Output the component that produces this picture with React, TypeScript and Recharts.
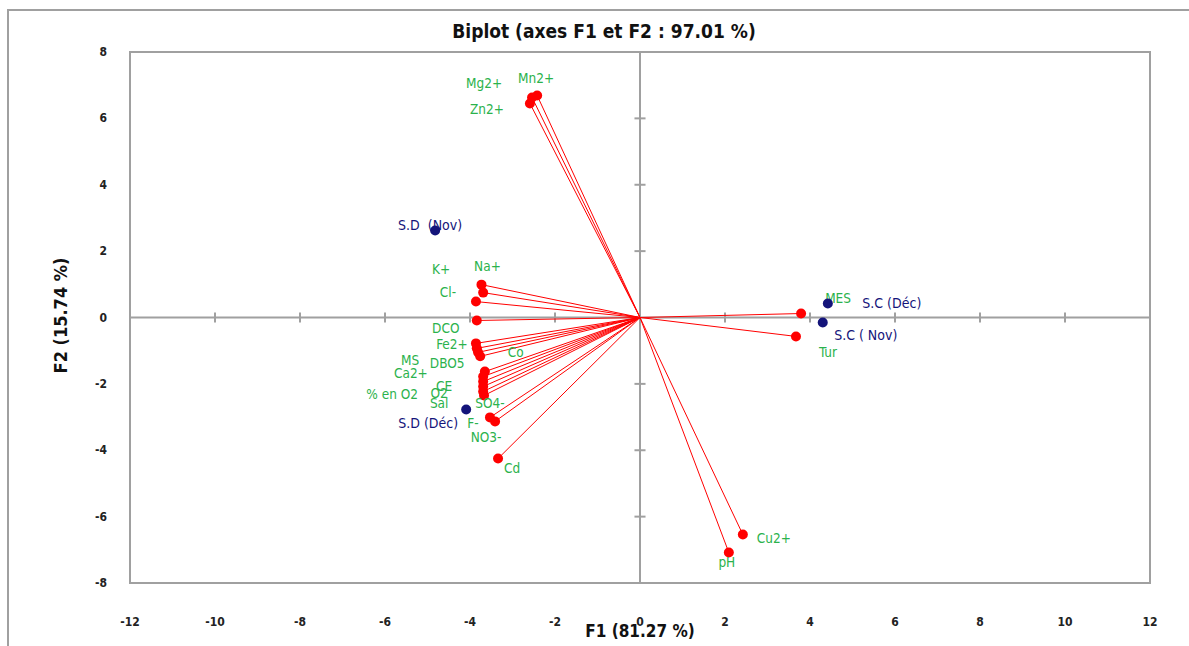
import React from "react";
import {
  ScatterChart,
  Scatter,
  XAxis,
  YAxis,
  ReferenceLine,
  ReferenceArea,
} from "recharts";

// variables (active vectors)
const varNames = [
  "Mg2+", "Mn2+", "Zn2+", "Na+", "K+", "Cl-", "DCO", "Fe2+", "Co", "MS",
  "DBO5", "Ca2+", "CE", "% en O2", "O2", "Sal", "SO4-", "F-", "NO3-", "Cd",
  "MES", "Tur", "Cu2+", "pH",
];
const varF1 = [
  -2.54, -2.42, -2.59, -3.73, -3.69, -3.86, -3.84, -3.86, -3.84, -3.81,
  -3.76, -3.65, -3.69, -3.69, -3.69, -3.69, -3.67, -3.53, -3.41, -3.34,
  3.79, 3.67, 2.42, 2.09,
];
const varF2 = [
  6.63, 6.69, 6.45, 0.99, 0.75, 0.48, -0.09, -0.78, -0.93, -1.05,
  -1.17, -1.63, -1.78, -1.93, -2.08, -2.23, -2.35, -3.01, -3.13, -4.25,
  0.12, -0.57, -6.54, -7.08,
];

// observations
const obsNames = ["S.D  (Nov)", "S.D (Déc)", "S.C (Déc)", "S.C ( Nov)"];
const obsF1 = [-4.82, -4.09, 4.42, 4.3];
const obsF2 = [2.62, -2.77, 0.42, -0.15];

const xTicks = [-12, -10, -8, -6, -4, -2, 0, 2, 4, 6, 8, 10, 12];
const yTicks = [-8, -6, -4, -2, 0, 2, 4, 6, 8];

// label placement (pixels from the point)
const labelOffsets: Record<string, [number, number]> = {
  "Mg2+": [-48, -14],
  "Mn2+": [-1, -17],
  "Zn2+": [-43, 6],
  "Na+": [6, -19],
  "K+": [-42, -24],
  "Cl-": [-28, -10],
  DCO: [-31, 8],
  "Fe2+": [-24, 1],
  Co: [39, 4],
  MS: [-68, 8],
  DBO5: [-33, 7],
  "Ca2+": [-74, 1],
  CE: [-39, 9],
  "% en O2": [-91, 12],
  O2: [-44, 6],
  Sal: [-44, 11],
  "SO4-": [6, 8],
  "F-": [-17, 6],
  "NO3-": [-9, 16],
  Cd: [14, 9],
  MES: [37, -16],
  Tur: [32, 16],
  "Cu2+": [31, 3],
  pH: [-2, 10],
  "S.D  (Nov)": [-5, -6],
  "S.D (Déc)": [-38, 14],
  "S.C (Déc)": [64, -1],
  "S.C ( Nov)": [43, 13],
};

const FONT = "'Liberation Sans Narrow', 'DejaVu Sans Condensed', 'Arial Narrow', sans-serif";
const GRID = "#a0a0a0";
const VAR_RED = "#ff0000";
const VAR_TEXT = "#2bb24c";
const OBS_BLUE = "#14147a";
const PLOT_BOTTOM = 583;

const variables = varNames.map((name, i) => ({ name, x: varF1[i], y: varF2[i] }));
const observations = obsNames.map((name, i) => ({ name, x: obsF1[i], y: obsF2[i] }));

function makeShape(fill: string, textColor: string, size: number) {
  return (props: any) => {
    const { cx, cy, payload } = props;
    const [dx, dy] = labelOffsets[payload.name] || [0, -12];
    return (
      <g>
        <circle cx={cx} cy={cy} r={5} fill={fill} />
        <text
          x={cx + dx}
          y={cy + dy}
          textAnchor="middle"
          dominantBaseline="central"
          fontFamily={FONT}
          fontSize={size}
          fill={textColor}
          style={{ whiteSpace: "pre" }}
        >
          {payload.name}
        </text>
      </g>
    );
  };
}

function XTick(props: any) {
  const { x, payload } = props;
  return (
    <text
      x={x}
      y={PLOT_BOTTOM + 39}
      textAnchor="middle"
      dominantBaseline="central"
      fontFamily={FONT}
      fontWeight="bold"
      fontSize={12}
      fill="#222"
    >
      {payload.value}
    </text>
  );
}

function YTick(props: any) {
  const { y, payload } = props;
  return (
    <text
      x={107}
      y={y}
      textAnchor="end"
      dominantBaseline="central"
      fontFamily={FONT}
      fontWeight="bold"
      fontSize={12}
      fill="#222"
    >
      {payload.value}
    </text>
  );
}

export default function App() {
  return (
    <div
      style={{
        position: "absolute",
        left: 0,
        top: 0,
        width: 1189,
        height: 646,
        background: "#fff",
        overflow: "hidden",
      }}
    >
      <div
        style={{
          position: "absolute",
          left: 7,
          top: 9,
          width: 1300,
          height: 800,
          borderTop: `2px solid ${GRID}`,
          borderLeft: `2px solid ${GRID}`,
        }}
      />
      <ScatterChart
        width={1189}
        height={646}
        margin={{ top: 52, right: 39, left: 0, bottom: 0 }}
        style={{ position: "absolute", left: 0, top: 0 }}
      >
        <XAxis
          type="number"
          dataKey="x"
          domain={[-12, 12]}
          ticks={xTicks}
          interval={0}
          axisLine={false}
          tickLine={false}
          height={63}
          tick={<XTick />}
        />
        <YAxis
          type="number"
          dataKey="y"
          domain={[-8, 8]}
          ticks={yTicks}
          interval={0}
          axisLine={false}
          tickLine={false}
          width={130}
          tick={<YTick />}
        />
        <ReferenceArea
          x1={-12}
          x2={12}
          y1={-8}
          y2={8}
          fill="none"
          stroke={GRID}
          strokeWidth={2}
          fillOpacity={0}
        />
        <ReferenceLine x={0} stroke={GRID} strokeWidth={2} />
        <ReferenceLine y={0} stroke={GRID} strokeWidth={2} />
        {xTicks
          .filter((t) => t !== 0 && Math.abs(t) !== 12)
          .map((t) => (
            <ReferenceLine
              key={"xt" + t}
              segment={[
                { x: t, y: -0.15 },
                { x: t, y: 0.15 },
              ]}
              stroke={GRID}
              strokeWidth={2}
            />
          ))}
        {yTicks
          .filter((t) => t !== 0 && Math.abs(t) !== 8)
          .map((t) => (
            <ReferenceLine
              key={"yt" + t}
              segment={[
                { x: -0.13, y: t },
                { x: 0.13, y: t },
              ]}
              stroke={GRID}
              strokeWidth={2}
            />
          ))}
        {variables.map((v) => (
          <ReferenceLine
            key={"v" + v.name}
            segment={[
              { x: 0, y: 0 },
              { x: v.x, y: v.y },
            ]}
            stroke={VAR_RED}
            strokeWidth={1}
          />
        ))}
        <Scatter
          data={variables}
          isAnimationActive={false}
          shape={makeShape(VAR_RED, VAR_TEXT, 13.5)}
        />
        <Scatter
          data={observations}
          isAnimationActive={false}
          shape={makeShape(OBS_BLUE, OBS_BLUE, 14)}
        />
      </ScatterChart>
      <div
        style={{
          position: "absolute",
          left: 0,
          width: 1208,
          top: 20,
          textAlign: "center",
          fontFamily: FONT,
          fontWeight: "bold",
          fontSize: 19,
          color: "#111",
        }}
      >
        Biplot (axes F1 et F2 : 97.01 %)
      </div>
      <div
        style={{
          position: "absolute",
          left: 540,
          width: 200,
          top: 621,
          textAlign: "center",
          fontFamily: FONT,
          fontWeight: "bold",
          fontSize: 17,
          color: "#111",
        }}
      >
        F1 (81.27 %)
      </div>
      <div
        style={{
          position: "absolute",
          left: -40,
          top: 305,
          width: 200,
          textAlign: "center",
          transform: "rotate(-90deg)",
          fontFamily: FONT,
          fontWeight: "bold",
          fontSize: 18,
          color: "#111",
        }}
      >
        F2 (15.74 %)
      </div>
    </div>
  );
}
